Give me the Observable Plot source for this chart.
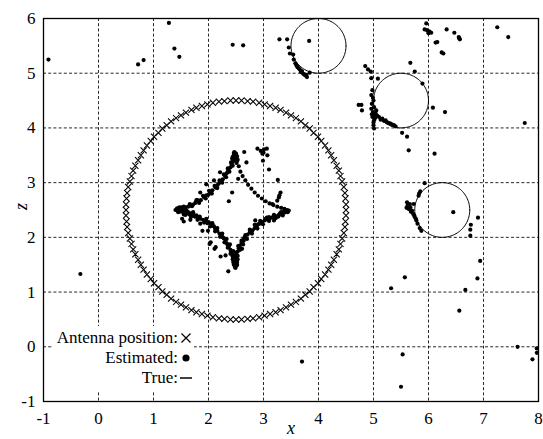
<!DOCTYPE html>
<html><head><meta charset="utf-8">
<script src="https://cdn.jsdelivr.net/npm/d3@7"></script>
<script src="https://cdn.jsdelivr.net/npm/@observablehq/plot@0.6"></script>
<style>
html,body{margin:0;padding:0;background:#fff;}
#chart svg{display:block;}
</style></head><body><div id="chart"></div>
<script>
const xTicks = [-1,0,1,2,3,4,5,6,7,8];
const zTicks = [-1,0,1,2,3,4,5,6];
const xGrid = [0,1,2,3,4,5,6,7];
const zGrid = [0,1,2,3,4,5];

const antennaX = [
4.50,4.50,4.49,4.48,4.46,4.43,4.40,4.37,4.33,4.28,4.23,4.18,4.12,4.05,3.99,3.91,3.84,3.76,3.68,3.59,3.50,3.41,3.31,3.22,3.12,3.02,2.92,2.81,2.71,2.60,
2.50,2.40,2.29,2.19,2.08,1.98,1.88,1.78,1.69,1.59,1.50,1.41,1.32,1.24,1.16,1.09,1.01,0.95,0.88,0.82,0.77,0.72,0.67,0.63,0.60,0.57,0.54,0.52,0.51,0.50,
0.50,0.50,0.51,0.52,0.54,0.57,0.60,0.63,0.67,0.72,0.77,0.82,0.88,0.95,1.01,1.09,1.16,1.24,1.32,1.41,1.50,1.59,1.69,1.78,1.88,1.98,2.08,2.19,2.29,2.40,
2.50,2.60,2.71,2.81,2.92,3.02,3.12,3.22,3.31,3.41,3.50,3.59,3.68,3.76,3.84,3.91,3.99,4.05,4.12,4.18,4.23,4.28,4.33,4.37,4.40,4.43,4.46,4.48,4.49,4.50];
const antennaZ = [
2.50,2.60,2.71,2.81,2.92,3.02,3.12,3.22,3.31,3.41,3.50,3.59,3.68,3.76,3.84,3.91,3.99,4.05,4.12,4.18,4.23,4.28,4.33,4.37,4.40,4.43,4.46,4.48,4.49,4.50,
4.50,4.50,4.49,4.48,4.46,4.43,4.40,4.37,4.33,4.28,4.23,4.18,4.12,4.05,3.99,3.91,3.84,3.76,3.68,3.59,3.50,3.41,3.31,3.22,3.12,3.02,2.92,2.81,2.71,2.60,
2.50,2.40,2.29,2.19,2.08,1.98,1.88,1.78,1.69,1.59,1.50,1.41,1.32,1.24,1.16,1.09,1.01,0.95,0.88,0.82,0.77,0.72,0.67,0.63,0.60,0.57,0.54,0.52,0.51,0.50,
0.50,0.50,0.51,0.52,0.54,0.57,0.60,0.63,0.67,0.72,0.77,0.82,0.88,0.95,1.01,1.09,1.16,1.24,1.32,1.41,1.50,1.59,1.69,1.78,1.88,1.98,2.08,2.19,2.29,2.40];

// true target circles
const trueX = [4.0, 5.5, 6.25];
const trueZ = [5.5, 4.5, 2.5];
const trueR = [0.5, 0.5, 0.5];

// estimated positions
const estTopLeft = [[1.45,2.50],[1.47,2.52],[1.44,2.48],[1.49,2.51],[1.52,2.53],[1.55,2.52],[1.58,2.55],[1.63,2.56],[1.66,2.58],[1.72,2.60],[1.76,2.63],[1.82,2.66],[1.86,2.68],[1.92,2.73],[1.96,2.77],[2.03,2.82],[2.07,2.86],[2.13,2.91],[2.17,2.96],[2.22,3.01],[2.26,3.06],[2.30,3.12],[2.33,3.17],[2.37,3.22],[2.40,3.28],[2.42,3.33],[2.44,3.38],[2.46,3.42],[2.47,3.46],[2.48,3.50],[2.49,3.53],[1.80,2.68],[2.00,2.78],[2.20,3.00],[2.35,3.20],
[1.55,2.56],[1.66,2.61],[1.78,2.68],[1.90,2.76],[2.01,2.85],[2.11,2.94],[2.20,3.04],[2.28,3.15],[2.35,3.26],[2.41,3.37],
[1.58,2.51],[1.70,2.57],[1.83,2.63],[1.95,2.71],[2.06,2.80],[2.16,2.90],[2.25,3.00],[2.32,3.10],[2.38,3.20],[2.44,3.31]];
const estTopCusp = [[2.46,3.50],[2.50,3.53],[2.47,3.56],[2.52,3.48],[2.49,3.45],[2.45,3.40],[2.53,3.42],[2.51,3.36],[2.44,3.47],[2.48,3.48],[2.46,3.54],[2.50,3.50],[2.43,3.44]];
const estTopRight = [[2.52,3.40],[2.55,3.30],[2.58,3.20],[2.62,3.12],[2.67,3.04],[2.72,2.96],[2.78,2.89],[2.84,2.82],[2.90,2.76],[2.97,2.71],[3.04,2.66],[3.11,2.62],[3.18,2.59],[3.25,2.56],[3.32,2.54],[3.38,2.52]];
const estRightCusp = [[3.46,2.49],[3.43,2.50],[3.40,2.47],[3.44,2.46],[3.38,2.49],[3.36,2.46]];
const estBottomRight = [[3.43,2.47],[3.38,2.45],[3.33,2.43],[3.28,2.41],[3.22,2.39],[3.17,2.37],[3.12,2.35],[3.07,2.33],[3.02,2.31],[2.97,2.28],[2.93,2.25],[2.88,2.21],[2.84,2.17],[2.80,2.13],[2.75,2.09],[2.71,2.05],[2.67,2.00],[2.63,1.95],[2.60,1.90],[2.57,1.85],[2.55,1.80],[2.53,1.74],[2.51,1.68],[2.50,1.62],[2.49,1.57],[3.30,2.44],[3.10,2.37],[2.90,2.24],[2.78,2.10],[2.65,1.99],[2.56,1.83],
[3.35,2.40],[3.22,2.35],[3.10,2.30],[2.99,2.24],[2.89,2.16],[2.79,2.07],[2.70,1.97],[2.63,1.87],[2.57,1.77],[2.53,1.66],
[3.32,2.46],[3.19,2.41],[3.06,2.36],[2.94,2.30],[2.84,2.23],[2.75,2.14],[2.67,2.04],[2.60,1.94],[2.54,1.84],[2.50,1.72]];
const estBottomCusp = [[2.46,1.50],[2.48,1.46],[2.50,1.52],[2.45,1.55],[2.49,1.58],[2.52,1.55],[2.47,1.62],[2.44,1.66],[2.51,1.48],[2.53,1.60],[2.47,1.70],[2.42,1.72],[2.50,1.65],[2.49,1.44],[2.46,1.53],[2.52,1.50],[2.48,1.56],[2.44,1.60]];
const estBottomLeft = [[1.50,2.47],[1.55,2.45],[1.60,2.44],[1.65,2.42],[1.70,2.40],[1.75,2.38],[1.80,2.36],[1.85,2.34],[1.90,2.32],[1.95,2.30],[2.00,2.28],[2.04,2.25],[2.08,2.21],[2.12,2.16],[2.16,2.12],[2.20,2.07],[2.24,2.03],[2.28,1.98],[2.31,1.93],[2.34,1.88],[2.37,1.83],[2.40,1.77],[2.42,1.71],[2.44,1.65],[2.45,1.60],[1.58,2.41],[1.78,2.40],[1.98,2.26],[2.10,2.20],[2.26,2.00],[2.35,1.86],[2.41,1.74],
[1.55,2.42],[1.68,2.37],[1.80,2.32],[1.92,2.27],[2.03,2.20],[2.12,2.11],[2.21,2.01],[2.29,1.91],[2.35,1.81],[2.40,1.70],
[1.60,2.47],[1.72,2.43],[1.84,2.38],[1.96,2.34],[2.07,2.26],[2.16,2.17],[2.25,2.07],[2.33,1.97],[2.39,1.87],[2.45,1.75]];
const estLeftCusp = [[1.43,2.53],[1.47,2.55],[1.50,2.49],[1.53,2.50],[1.56,2.47],[1.60,2.49],[1.63,2.46],[1.68,2.44],[1.72,2.46],[1.45,2.46],[1.42,2.51],[1.48,2.49],[1.51,2.55],[1.46,2.52],[1.54,2.48],[1.40,2.50]];
const estNearCentre = [[2.89,3.62],[2.95,3.58],[3.06,3.62],[2.98,3.53],[3.07,3.50],[3.00,3.55],[3.01,3.61],[2.99,3.40],[2.65,3.56],[2.69,3.37],[3.10,3.24],[3.26,3.05],[3.31,2.82],[3.28,2.73],[3.25,2.67],[3.29,2.77],[3.16,2.61],[2.21,3.19],[2.10,3.04],[1.96,2.97],[1.85,2.82],[2.37,2.66],[2.43,2.82],[2.54,3.07],[1.55,2.29],[1.67,2.32],[1.52,2.34],[1.85,2.25],[1.89,2.12],[1.99,2.12],[2.02,1.88],[2.04,1.91],[2.11,1.79],[2.13,1.82],[2.22,1.65],[2.31,1.67],[2.36,1.38],[2.61,1.79],[2.64,1.94],[2.85,2.31],[3.19,2.31],[3.04,2.34],[3.27,2.38],[3.41,2.49]];
const estCircleA = [[3.29,5.62],[3.43,5.62],[3.83,5.59],[3.46,5.47],[3.48,5.36],[3.54,5.34],[3.55,5.25],[3.58,5.18],[3.62,5.11],[3.66,5.07],[3.68,5.02],[3.72,4.99],[3.76,4.96],[3.79,4.93],[3.84,5.01],[3.64,5.09],[3.70,5.04],[3.74,4.98],[3.60,5.14],[3.78,4.97]];
const estCircleB = [[4.85,5.13],[4.90,5.07],[4.95,5.03],[5.67,5.19],[5.75,5.03],[4.96,4.91],[5.08,4.90],[5.89,4.81],[4.98,4.69],[4.96,4.60],[5.00,4.50],[4.73,4.42],[4.78,4.42],[4.79,4.32],[5.01,4.38],[4.99,4.29],[4.98,4.20],[5.01,4.14],[5.00,4.05],[5.02,4.24],[5.05,4.32],[4.96,4.35],[5.10,4.20],[5.16,4.17],[5.22,4.14],[5.28,4.09],[5.34,4.06],[5.40,4.03],[5.01,3.99],[5.52,3.91],[5.61,3.84],[6.08,4.37],[6.30,4.29],[5.64,3.59],[6.11,3.53],[5.04,4.26],[4.97,4.25],[5.03,4.18],[5.07,4.22],[4.99,4.55],[5.13,4.15],[5.19,4.13],[5.25,4.10],[5.31,4.08],[5.37,4.05],[5.00,4.10],[4.97,4.44]];
const estCircleC = [[5.93,2.99],[5.85,2.84],[5.82,2.76],[5.61,2.64],[5.62,2.58],[5.64,2.52],[5.67,2.55],[5.70,2.49],[5.73,2.61],[5.72,2.43],[5.75,2.37],[5.78,2.31],[5.80,2.25],[5.84,2.17],[5.87,2.12],[5.66,2.61],[5.60,2.54],[6.45,2.46],[6.90,2.36],[6.77,2.23],[6.76,2.14],[6.76,2.03],[5.68,2.47],[5.74,2.40],[5.83,2.80],[5.65,2.60],[5.77,2.34]];
const estTopRightCorner = [[5.96,5.91],[5.97,5.79],[6.02,5.76],[5.93,5.80],[6.00,5.73],[6.05,5.74],[5.99,5.77],[6.33,5.80],[6.47,5.74],[6.55,5.66],[6.57,5.62],[6.56,5.64],[6.16,5.57],[6.13,5.56],[6.24,5.38],[6.27,5.36],[7.25,5.84],[7.45,5.66]];
const estOutliers = [[-0.91,5.25],[0.72,5.16],[0.82,5.24],[1.28,5.92],[1.38,5.45],[1.47,5.30],[2.44,5.52],[2.63,5.51],[-0.33,1.33],[7.75,4.09],[6.94,1.57],[5.57,1.27],[6.89,1.25],[6.67,1.04],[6.56,0.66],[5.32,1.07],[3.70,-0.27],[5.53,-0.14],[5.50,-0.73],[7.62,0.00],[7.89,-0.23],[7.97,-0.03],[7.97,-0.11]];

const legendLabels = ["Antenna position:", "Estimated:", "True:"];

const antenna = antennaX.map((x, i) => ({x, z: antennaZ[i]}));
const estimated = [].concat(estTopLeft, estTopCusp, estTopRight, estRightCusp, estBottomRight,
  estBottomCusp, estBottomLeft, estLeftCusp, estNearCentre, estCircleA, estCircleB, estCircleC,
  estTopRightCorner, estOutliers).map(([x, z]) => ({x, z}));
// outline of each true circle from its centre and radius
const trueOutline = [];
trueX.forEach((cx, i) => {
  for (let k = 0; k <= 120; k++) {
    const a = (k / 120) * 2 * Math.PI;
    trueOutline.push({id: i, x: cx + trueR[i] * Math.cos(a), z: trueZ[i] + trueR[i] * Math.sin(a)});
  }
});

const FONT = "'Liberation Serif', 'Times New Roman', serif";

function legend(index, scales, values, dimensions) {
  const {marginLeft, marginBottom, height} = dimensions;
  const x0 = marginLeft, y0 = height - marginBottom;
  const g = d3.create("svg:g").attr("font-family", FONT).attr("font-size", 17);
  g.append("rect").attr("x", x0 + 10).attr("y", y0 - 75).attr("width", 141).attr("height", 66).attr("fill", "white");
  const rows = [-63, -43, -23];
  legendLabels.forEach((t, i) => {
    g.append("text").attr("x", x0 + 135).attr("y", y0 + rows[i]).attr("dy", "0.32em")
      .attr("text-anchor", "end").attr("fill", "black").text(t);
  });
  const sx = x0 + 143;
  g.append("path").attr("d", `M${sx-4.5},${y0+rows[0]-4.5}L${sx+4.5},${y0+rows[0]+4.5}M${sx-4.5},${y0+rows[0]+4.5}L${sx+4.5},${y0+rows[0]-4.5}`)
    .attr("stroke", "black").attr("stroke-width", 1.2);
  g.append("circle").attr("cx", sx).attr("cy", y0 + rows[1]).attr("r", 3.6).attr("fill", "black");
  g.append("line").attr("x1", sx - 6).attr("x2", sx + 6).attr("y1", y0 + rows[2]).attr("y2", y0 + rows[2])
    .attr("stroke", "black").attr("stroke-width", 1.5);
  return g.node();
}

const chart = Plot.plot({
  width: 543,
  height: 439,
  marginLeft: 43,
  marginRight: 5,
  marginTop: 18,
  marginBottom: 38,
  style: {fontFamily: FONT, fontSize: "17px", background: "white", color: "black"},
  x: {domain: [-1, 8], ticks: xTicks, tickFormat: d => String(d), tickSize: 0, tickPadding: 10, label: null},
  y: {domain: [-1, 6], ticks: zTicks, tickFormat: d => String(d), tickSize: 0, tickPadding: 8, label: null},
  marks: [
    Plot.ruleX(xGrid, {stroke: "#111", strokeWidth: 0.9, strokeDasharray: "3,2.2"}),
    Plot.ruleY(zGrid, {stroke: "#111", strokeWidth: 0.9, strokeDasharray: "3,2.2"}),
    Plot.line(trueOutline, {x: "x", y: "z", z: "id", stroke: "black", strokeWidth: 1, curve: "linear"}),
    Plot.dot(antenna, {x: "x", y: "z", symbol: "times", r: 2.9, stroke: "black", strokeWidth: 1.05}),
    Plot.dot(estimated, {x: "x", y: "z", r: 2.1, fill: "black", stroke: null}),
    legend,
    Plot.frame({stroke: "black", strokeWidth: 1.3}),
    Plot.text(["x"], {frameAnchor: "bottom", dy: 32, text: d => d, fontStyle: "italic", fontSize: 18, fill: "black"}),
    Plot.text(["z"], {frameAnchor: "left", dx: -22, rotate: -90, text: d => d, fontStyle: "italic", fontSize: 18, fill: "black"})
  ]
});
document.getElementById("chart").appendChild(chart);
</script>
</body></html>
